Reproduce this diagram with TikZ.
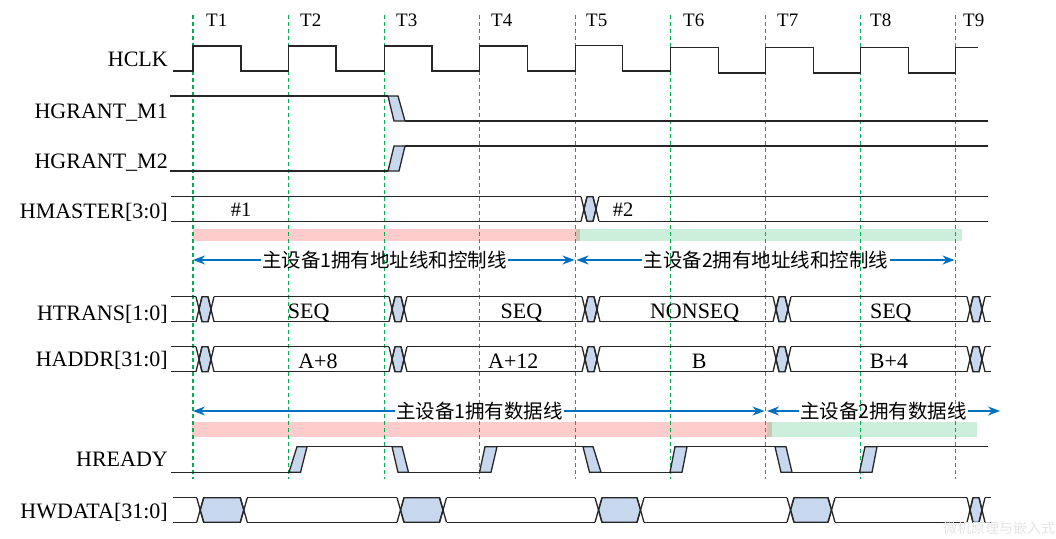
\documentclass[tikz,border=0pt]{standalone}
\usepackage{fontspec}
\setmainfont{Liberation Serif}
\newfontfamily\cjk{Noto Sans CJK SC}
\usetikzlibrary{arrows.meta}
\definecolor{sigcol}{RGB}{38,38,38}
\definecolor{bfill}{RGB}{198,215,238}
\definecolor{dashcol}{RGB}{0,176,80}
\definecolor{arrcol}{RGB}{0,112,192}
\tikzset{
  sig/.style={draw=sigcol,line width=1.3pt,line join=miter},
  tline/.style={draw=dashcol,line width=1.1pt,dash pattern=on 4pt off 3pt},
  lbl/.style={anchor=base east,inner sep=0pt,font=\fontsize{22}{26}\selectfont},
  tlbl/.style={anchor=base west,inner sep=0pt,font=\fontsize{19}{22}\selectfont},
  val/.style={anchor=base,inner sep=0pt,font=\fontsize{22}{26}\selectfont},
  mval/.style={anchor=base,inner sep=0pt,font=\fontsize{20.5}{24}\selectfont},
  cjkt/.style={inner xsep=1pt,inner ysep=0pt,font=\cjk\fontsize{19.5}{22}\selectfont},
  arr/.style={draw=arrcol,line width=1.2pt,-{Stealth[length=12pt,width=9pt]}},
  pinkbar/.style={fill=red,opacity=0.2},
  greenbar/.style={fill=dashcol,opacity=0.2},
}
% bus crossing: a, b, top, bottom, w
\newcommand{\tdbusx}[5]{%
  \filldraw[sig,fill=bfill] ({#1+#5/2},{(#3+#4)/2}) -- ({#1+#5},#3) -- ({#2-#5},#3) -- ({#2-#5/2},{(#3+#4)/2}) -- ({#2-#5},#4) -- ({#1+#5},#4) -- cycle;
  \draw[sig] (#1,#3) -- ({#1+#5},#4);
  \draw[sig] (#1,#4) -- ({#1+#5},#3);
  \draw[sig] ({#2-#5},#3) -- (#2,#4);
  \draw[sig] ({#2-#5},#4) -- (#2,#3);
}
\newcommand{\tdsmallx}[3]{\tdbusx{#1}{#1+18}{#2}{#3}{6}}
\newcommand{\tdpara}[4]{\filldraw[sig,fill=bfill] #1 -- #2 -- #3 -- #4 -- cycle;}
\begin{document}
\begin{tikzpicture}[x=1pt,y=-1pt]
\fill[white] (0,0) rectangle (1056,538);
\useasboundingbox (0,0) rectangle (1056,538);

% shaded ownership bars
\fill[pinkbar] (193,229) rectangle (580,241);
\fill[greenbar] (576,229) rectangle (962,241);
\fill[pinkbar] (192,421.7) rectangle (772,436.7);
\fill[greenbar] (767,421.7) rectangle (977,436.7);

% clock edge lines
\foreach \x [count=\i] in {193,288.3,384.3,479.8,575.7,670.3,765.7,860.3,955.7} {
  \coordinate (T\i top) at (\x,15);
  \coordinate (T\i bot) at (\x,479);
  \draw[tline] (T\i top) -- (T\i bot);
}
\foreach \x [count=\i] in {206,300,396,491,586,683,777,870,963} {
  \node[tlbl] (tl\i) at (\x,27) {T\i};
}

% signal names
\node[lbl] (nclk) at (168,66.7) {HCLK};
\node[lbl] (ngm1) at (168,118.3) {HGRANT\_M1};
\node[lbl] (ngm2) at (168,168.3) {HGRANT\_M2};
\node[lbl] (nmas) at (168,218.3) {HMASTER[3:0]};
\node[lbl] (ntra) at (168,320) {HTRANS[1:0]};
\node[lbl] (nadd) at (168,366) {HADDR[31:0]};
\node[lbl] (nrdy) at (168,466) {HREADY};
\node[lbl] (nwda) at (168,518.3) {HWDATA[31:0]};

% HCLK
\draw[sig] (173,71) -- (193,71) -- (193,46) -- (241,46) -- (241,71)
  -- (288.3,71) -- (288.3,46) -- (336,46) -- (336,71)
  -- (384.3,71) -- (384.3,46) -- (432,46) -- (432,71)
  -- (479.8,71) -- (479.8,46) -- (527.5,46) -- (527.5,71)
  -- (575.7,71) -- (575.7,45.7) -- (622.7,45.7) -- (622.7,71)
  -- (670.3,71) -- (670.3,47.7) -- (718.3,47.7) -- (718.3,73)
  -- (765.7,73) -- (765.7,47.7) -- (813.5,47.7) -- (813.5,73)
  -- (860.3,73) -- (860.3,47.7) -- (908.3,47.7) -- (908.3,73)
  -- (955.7,73) -- (955.7,47.7) -- (978,47.7);

% HGRANT_M1
\draw[sig] (170,96) -- (388,96);
\tdpara{(388,96)}{(398,96)}{(405,121)}{(394,121)}
\draw[sig] (405,121) -- (988,121);
% HGRANT_M2
\draw[sig] (170,171) -- (388,171);
\tdpara{(388,171)}{(399,171)}{(405,146)}{(394,146)}
\draw[sig] (405,146) -- (988,146);

% HMASTER
\foreach \a/\b in {171/581,599/988} {
  \draw[sig] (\a,196.7) -- (\b,196.7);
  \draw[sig] (\a,221.3) -- (\b,221.3);
}
\tdsmallx{581}{196.7}{221.3}
\node[mval] (m1) at (241,216) {\#1};
\node[mval] (m2) at (623,216) {\#2};

% address phase ownership arrows
\node[cjkt] (ac1) at (384.5,260) {主设备1拥有地址线和控制线};
\coordinate (ac1l) at (193,260);
\coordinate (ac1r) at (574.5,260);
\draw[arr] (ac1.west) -- (ac1l);
\draw[arr] (ac1.east) -- (ac1r);
\node[cjkt] (ac2) at (766,260) {主设备2拥有地址线和控制线};
\coordinate (ac2l) at (576.5,260);
\coordinate (ac2r) at (954.5,260);
\draw[arr] (ac2.west) -- (ac2l);
\draw[arr] (ac2.east) -- (ac2r);

% HTRANS and HADDR
\foreach \yt/\yb in {296.7/321.7,346.7/371.7} {
  \foreach \a/\b in {171/196,214/389,407/582,600/773,791/967,985/991} {
    \draw[sig] (\a,\yt) -- (\b,\yt);
    \draw[sig] (\a,\yb) -- (\b,\yb);
  }
  \foreach \c in {196,389,582,773,967} {
    \tdsmallx{\c}{\yt}{\yb}
  }
}
\node[val] (v1) at (308.7,318.3) {SEQ};
\node[val] (v2) at (521.5,318.3) {SEQ};
\node[val] (v3) at (694.7,318.3) {NONSEQ};
\node[val] (v4) at (890.8,318.3) {SEQ};
\node[val] (a1) at (318,368.5) {A+8};
\node[val] (a2) at (513.3,368.5) {A+12};
\node[val] (a3) at (699.3,368.5) {B};
\node[val] (a4) at (889,368.5) {B+4};

% data phase ownership arrows
\node[cjkt] (dc1) at (479.5,411) {主设备1拥有数据线};
\coordinate (dc1l) at (193,411);
\coordinate (dc1r) at (764.5,411);
\draw[arr] (dc1.west) -- (dc1l);
\draw[arr] (dc1.east) -- (dc1r);
\node[cjkt] (dc2) at (883.5,411) {主设备2拥有数据线};
\coordinate (dc2l) at (767,411);
\coordinate (dc2r) at (1000,411);
\draw[arr] (dc2.west) -- (dc2l);
\draw[arr] (dc2.east) -- (dc2r);

% HREADY
\def\H{446.7}\def\L{472.3}
\draw[sig] (171,\L) -- (289,\L);
\tdpara{(289,\L)}{(300.5,\L)}{(307,\H)}{(297,\H)}
\draw[sig] (307,\H) -- (392,\H);
\tdpara{(392,\H)}{(402,\H)}{(408.5,\L)}{(398,\L)}
\draw[sig] (408.5,\L) -- (479.5,\L);
\tdpara{(479.5,\L)}{(491,\L)}{(497,\H)}{(485,\H)}
\draw[sig] (497,\H) -- (583,\H);
\tdpara{(583,\H)}{(593,\H)}{(601,\L)}{(589.5,\L)}
\draw[sig] (601,\L) -- (670,\L);
\tdpara{(670,\L)}{(682,\L)}{(687,\H)}{(675,\H)}
\draw[sig] (687,\H) -- (775,\H);
\tdpara{(775,\H)}{(786,\H)}{(792,\L)}{(781,\L)}
\draw[sig] (792,\L) -- (859.5,\L);
\tdpara{(859.5,\L)}{(872,\L)}{(877,\H)}{(865,\H)}
\draw[sig] (877,\H) -- (988,\H);

% HWDATA
\foreach \a/\b in {173/196.7,247.3/397,446.5/595,644/787,835/967,985/991} {
  \draw[sig] (\a,497.7) -- (\b,497.7);
  \draw[sig] (\a,522.3) -- (\b,522.3);
}
\tdbusx{196.7}{247.3}{497.7}{522.3}{7}
\tdbusx{397}{446.5}{497.7}{522.3}{7}
\tdbusx{595}{644}{497.7}{522.3}{7}
\tdbusx{787}{835}{497.7}{522.3}{7}
\tdsmallx{967}{497.7}{522.3}

% faint watermark
\node[anchor=base west,inner sep=0pt,text=black!10,font=\cjk\fontsize{14}{16}\selectfont] (wm) at (943,533) {微机原理与嵌入式};
\end{tikzpicture}
\end{document}
